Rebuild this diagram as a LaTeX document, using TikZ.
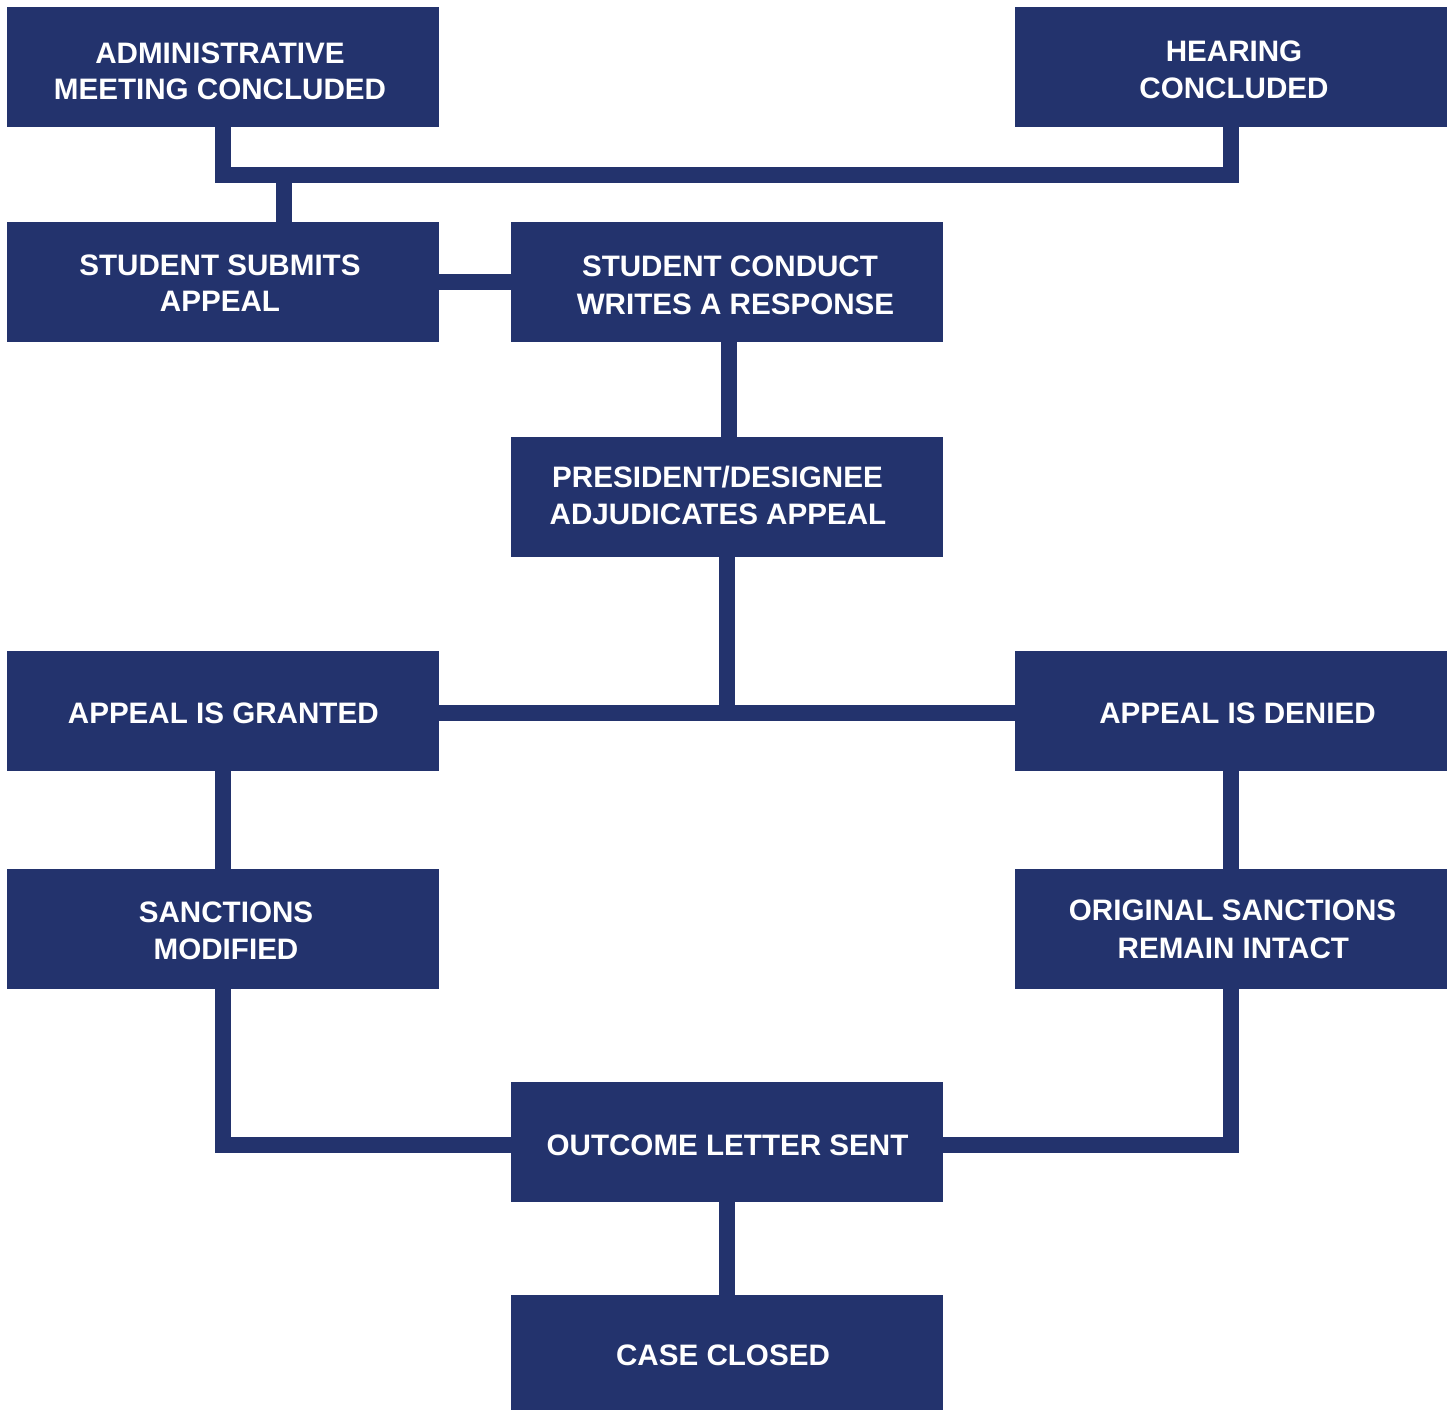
\documentclass[tikz,border=0pt]{standalone}
\usepackage{fontspec}
\setmainfont{Liberation Sans}
\definecolor{navy}{HTML}{23336D}
\begin{document}
\begin{tikzpicture}[x=1pt,y=-1pt,
  box/.style={fill=navy,draw=none,minimum width=432pt,minimum height=120pt,inner sep=0pt,outer sep=0pt},
  lbl/.style={text=white,font=\bfseries\fontsize{29.6}{37}\selectfont,inner sep=0pt,anchor=base},
  conn/.style={draw=navy,line width=16pt,line join=miter}]
\useasboundingbox (0,0) rectangle (1453,1410);
\clip (0,0) rectangle (1453,1410);
% boxes
\node[box] (adm)  at (223,67) {};
\node[box] (hear) at (1231,67) {};
\node[box] (sub)  at (223,282) {};
\node[box] (cond) at (727,282) {};
\node[box] (pres) at (727,497) {};
\node[box] (gran) at (223,711) {};
\node[box] (den)  at (1231,711) {};
\node[box] (sanc) at (223,929) {};
\node[box] (orig) at (1231,929) {};
\node[box] (out)  at (727,1142) {};
\node[box] (case) at (727,1355) {};
% connector helpers
\coordinate (jt) at (727,175);
\coordinate (br) at (284.3,175);
\coordinate (jm) at (727,712.5);
% connectors
\draw[conn] (adm.south) |- (jt) -| (hear.south);
\draw[conn] (br) -- (br |- sub.north);
\draw[conn] (sub.east) -- (cond.west);
\draw[conn] ([xshift=2pt]cond.south) -- ([xshift=2pt]pres.north);
\draw[conn] (pres.south) -- (jm);
\draw[conn] (gran.east |- jm) -- (den.west |- jm);
\draw[conn] (gran.south) -- (sanc.north);
\draw[conn] (den.south) -- (orig.north);
\draw[conn] (sanc.south) |- ([yshift=-3pt]out.west);
\draw[conn] (orig.south) |- ([yshift=-3pt]out.east);
\draw[conn] (out.south) -- (case.north);
% labels
\node[lbl] (t1a) at (220,64) {ADMINISTRATIVE};
\node[lbl] (t1b) at (220,100) {MEETING CONCLUDED};
\node[lbl] (t2a) at (1234,61.7) {HEARING};
\node[lbl] (t2b) at (1234,98.3) {CONCLUDED};
\node[lbl] (t3a) at (220,275.7) {STUDENT SUBMITS};
\node[lbl] (t3b) at (220,311.7) {APPEAL};
\node[lbl] (t4a) at (730,276.7) {STUDENT CONDUCT};
\node[lbl] (t4b) at (735.5,314) {WRITES A RESPONSE};
\node[lbl] (t5a) at (717.5,487.3) {PRESIDENT/DESIGNEE};
\node[lbl] (t5b) at (718,524.3) {ADJUDICATES APPEAL};
\node[lbl] (t6) at (223.3,723.3) {APPEAL IS GRANTED};
\node[lbl] (t7) at (1237.5,723.3) {APPEAL IS DENIED};
\node[lbl] (t8a) at (226,922.3) {SANCTIONS};
\node[lbl] (t8b) at (226,959.3) {MODIFIED};
\node[lbl] (t9a) at (1232.5,920.3) {ORIGINAL SANCTIONS};
\node[lbl] (t9b) at (1233.3,958.3) {REMAIN INTACT};
\node[lbl] (t10) at (727.5,1155) {OUTCOME LETTER SENT};
\node[lbl] (t11) at (723,1365) {CASE CLOSED};
\end{tikzpicture}
\end{document}
